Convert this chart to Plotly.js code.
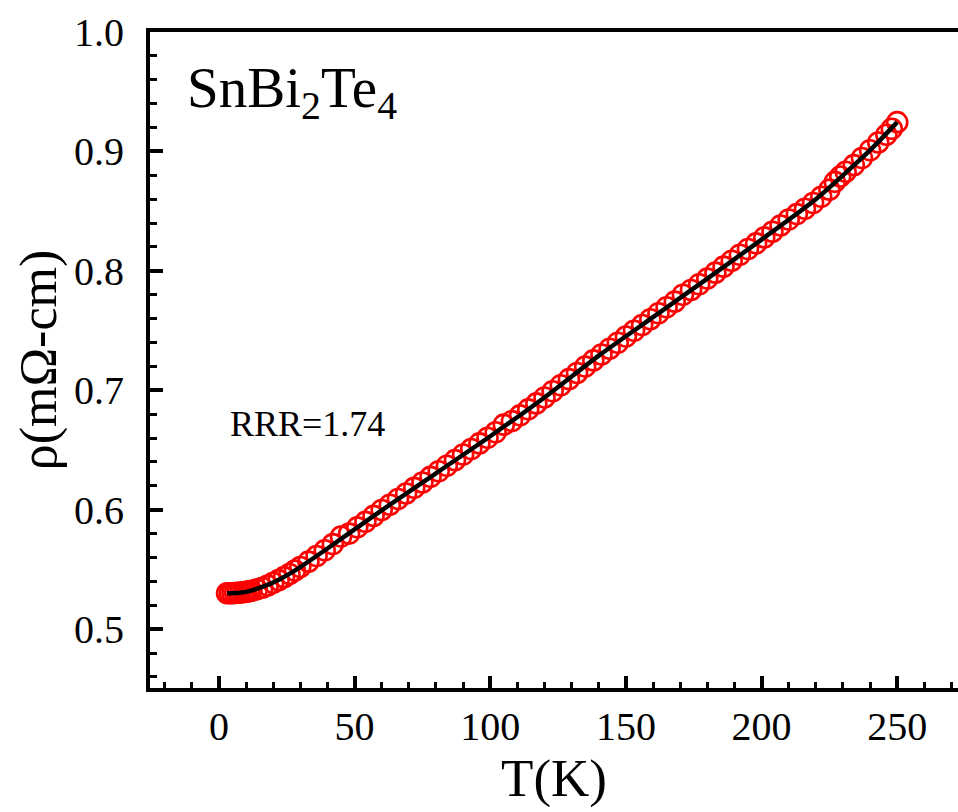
<!DOCTYPE html>
<html>
<head>
<meta charset="utf-8">
<script src="https://cdn.plot.ly/plotly-3.0.1.min.js"></script>
<style>html,body{margin:0;padding:0;background:#fff;}#chart{width:958px;height:812px;}</style>
</head>
<body>
<div id="chart"></div>
<script>
// Measured resistivity (open red circles)
const T_data = [3,4,5,6,7,8,9,10,11,12,14,16,18,20,22,24,26,28,30,33,36,39,42,45,48,51,54,57,60,63,66,69,72,75,78,81,84,87,90,93,96,99,102,105,108,111,114,117,120,123,126,129,132,135,138,141,144,147,150,153,156,159,162,165,168,171,174,177,180,183,186,189,192,195,198,201,204,207,210,213,216,219,222,225,227,229,231,234,237,240,243,246,248,250];
const rho_data = [0.5300,0.5300,0.5301,0.5302,0.5304,0.5306,0.5309,0.5312,0.5316,0.5321,0.5333,0.5347,0.5365,0.5388,0.5410,0.5435,0.5462,0.5490,0.5520,0.5565,0.5612,0.5660,0.5712,0.5775,0.5800,0.5852,0.5898,0.5948,0.5998,0.6042,0.6090,0.6136,0.6183,0.6228,0.6275,0.6322,0.6368,0.6415,0.6462,0.6508,0.6555,0.6602,0.6648,0.6712,0.6742,0.6790,0.6840,0.6890,0.6940,0.6992,0.7042,0.7093,0.7145,0.7198,0.7250,0.7300,0.7348,0.7398,0.7450,0.7498,0.7546,0.7595,0.7645,0.7695,0.7742,0.7800,0.7840,0.7888,0.7935,0.7985,0.8035,0.8085,0.8135,0.8183,0.8230,0.8280,0.8328,0.8380,0.8430,0.8475,0.8520,0.8568,0.8620,0.8680,0.8745,0.8790,0.8830,0.8885,0.8945,0.9010,0.9075,0.9140,0.9190,0.9245];
// Fit curve (black line)
const T_fit = [3,6,10,15,20,25,30,40,50,60,80,100,120,140,160,180,200,220,230,240,250];
const rho_fit = [0.5300,0.5302,0.5312,0.5345,0.5390,0.5450,0.5520,0.5675,0.5835,0.5995,0.6305,0.6615,0.6940,0.7290,0.7612,0.7935,0.8262,0.8600,0.8800,0.9010,0.9245];

const xTitle = 'T(K)';
const yTitle = 'ρ(mΩ-cm)';
const compoundLabel = 'SnBi<sub>2</sub>Te<sub>4</sub>';
const rrrLabel = 'RRR=1.74';

const FONT = 'Liberation Serif, Times New Roman, serif';

const traces = [
  {
    x: T_data, y: rho_data, type: 'scatter', mode: 'markers',
    marker: {symbol: 'circle-open', size: 20, color: '#ff0000', line: {color: '#ff0000', width: 2.6}},
    showlegend: false, hoverinfo: 'skip'
  },
  {
    x: T_fit, y: rho_fit, type: 'scatter', mode: 'lines',
    line: {color: '#000000', width: 4.5, shape: 'spline', smoothing: 0.8},
    showlegend: false, hoverinfo: 'skip'
  }
];

const layout = {
  width: 958, height: 812,
  margin: {l: 150, r: 0, t: 32, b: 124, pad: 0},
  paper_bgcolor: '#ffffff', plot_bgcolor: '#ffffff',
  font: {family: FONT, color: '#000000'},
  showlegend: false,
  xaxis: {
    range: [-25.4, 272.4],
    tick0: 0, dtick: 50,
    ticks: 'inside', ticklen: 12, tickwidth: 4, tickcolor: '#000',
    minor: {dtick: 10, tick0: 0, ticks: 'inside', ticklen: 6, tickwidth: 3, tickcolor: '#000', showgrid: false},
    showline: true, linewidth: 4, linecolor: '#000', mirror: true,
    showgrid: false, zeroline: false,
    tickfont: {family: FONT, size: 40, color: '#000'},
    ticklabelstandoff: 0,
    title: {text: xTitle, font: {family: FONT, size: 53, color: '#000'}, standoff: 8}
  },
  yaxis: {
    range: [0.4507, 1.0],
    tick0: 0, dtick: 0.1, tickformat: '.1f',
    ticks: 'inside', ticklen: 13, tickwidth: 4, tickcolor: '#000',
    minor: {dtick: 0.02, tick0: 0, ticks: 'inside', ticklen: 7, tickwidth: 3, tickcolor: '#000', showgrid: false},
    showline: true, linewidth: 4, linecolor: '#000', mirror: false,
    showgrid: false, zeroline: false,
    tickfont: {family: FONT, size: 40, color: '#000'},
    ticklabelstandoff: 14,
    title: {text: yTitle, font: {family: FONT, size: 52, color: '#000'}, standoff: 2}
  },
  annotations: [
    {text: compoundLabel, xref: 'paper', yref: 'paper', x: 0.043, y: 0.908, xanchor: 'left', yanchor: 'middle',
     showarrow: false, font: {family: FONT, size: 57, color: '#000'}},
    {text: rrrLabel, xref: 'paper', yref: 'paper', x: 0.0965, y: 0.402, xanchor: 'left', yanchor: 'middle',
     showarrow: false, font: {family: FONT, size: 36, color: '#000'}}
  ]
};

Plotly.newPlot('chart', traces, layout, {staticPlot: true, displayModeBar: false});
</script>
</body>
</html>
